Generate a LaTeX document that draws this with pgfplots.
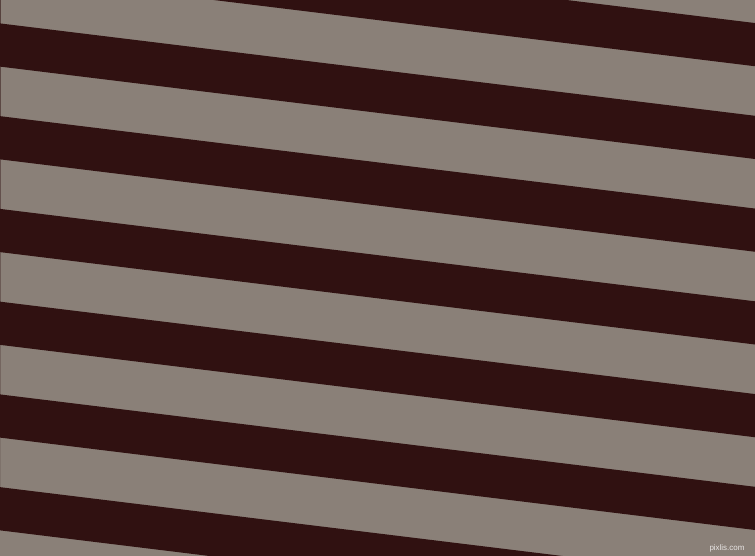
\documentclass[border=0pt]{standalone}
\usepackage{fontspec}
\usepackage{pgfplots}
\pgfplotsset{compat=1.18}
\newfontfamily\markfont{Liberation Sans}

\definecolor{stripegrey}{RGB}{138,128,120}
\definecolor{stripedark}{RGB}{48,17,17}

\begin{document}
\begin{tikzpicture}
  \begin{axis}[
    scale only axis,
    width=755bp, height=556bp,
    xmin=0, xmax=755,
    ymin=0, ymax=556,
    y dir=reverse,
    hide axis,
    axis background/.style={fill=stripegrey},
    clip=true,
  ]
  % dark stripes: left top, right top, right bottom, left bottom
  \addplot[draw=none, fill=stripedark] coordinates {(0,-69.35) (755,23.05) (755,66.25) (0,-26.15)} \closedcycle;
  \addplot[draw=none, fill=stripedark] coordinates {(0,23.4) (755,115.8) (755,159.0) (0,66.6)} \closedcycle;
  \addplot[draw=none, fill=stripedark] coordinates {(0,116.15) (755,208.55) (755,251.75) (0,159.35)} \closedcycle;
  \addplot[draw=none, fill=stripedark] coordinates {(0,208.9) (755,301.3) (755,344.5) (0,252.1)} \closedcycle;
  \addplot[draw=none, fill=stripedark] coordinates {(0,301.65) (755,394.05) (755,437.25) (0,344.85)} \closedcycle;
  \addplot[draw=none, fill=stripedark] coordinates {(0,394.4) (755,486.8) (755,530.0) (0,437.6)} \closedcycle;
  \addplot[draw=none, fill=stripedark] coordinates {(0,487.15) (755,579.55) (755,622.75) (0,530.35)} \closedcycle;
  \node[text=white!80!stripegrey, font=\markfont\fontsize{8}{8}\selectfont, inner sep=0pt]
    at (axis cs:727,548) {pixlis.com};
  \end{axis}
  \pgfresetboundingbox
  \path[use as bounding box] (current axis.south west) rectangle (current axis.north east);
\end{tikzpicture}
\end{document}
